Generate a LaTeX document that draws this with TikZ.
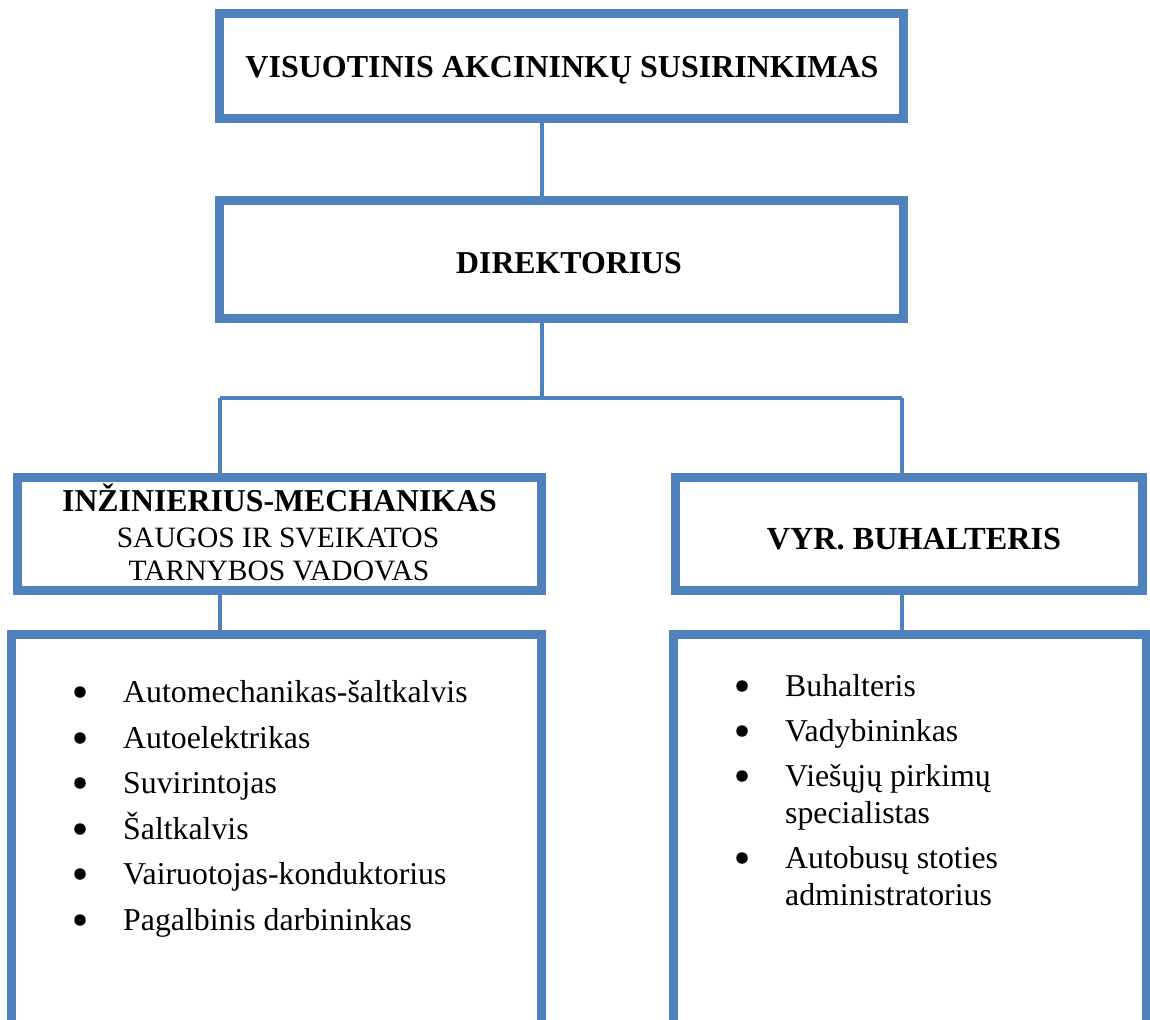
\documentclass[tikz,border=0pt]{standalone}
\usepackage{fontspec}
\setmainfont{Liberation Serif}
\definecolor{boxblue}{HTML}{4F81BD}
\tikzset{
  orgbox/.style={draw=boxblue, line width=9pt, fill=white, inner sep=0pt, outer sep=0pt, rectangle},
  link/.style={draw=boxblue, line width=4pt},
  hdr/.style={font=\fontsize{32}{36}\selectfont\bfseries, inner sep=0pt, anchor=base},
  sub/.style={font=\fontsize{29.5}{34}\selectfont, inner sep=0pt, anchor=base},
  item/.style={font=\fontsize{31.8}{37}\selectfont, inner sep=0pt, anchor=base west},
  dot/.style={circle, fill=black, inner sep=0pt, minimum size=11.5pt}
}
\begin{document}
\begin{tikzpicture}[x=1pt,y=-1pt]
\useasboundingbox (0,0) rectangle (1150,1019);
\clip (0,0) rectangle (1150,1019);

% connectors (drawn first, boxes on top)
\coordinate (split) at (542,398);
\coordinate (lsplit) at (220,398);
\coordinate (rsplit) at (902,398);
\draw[link] (542,118) -- (542,201);
\draw[link] (542,318) -- (split);
\draw[link] (lsplit) -- (rsplit);
\draw[link] (lsplit) -- (220,478);
\draw[link] (rsplit) -- (902,478);
\draw[link] (220,590) -- (220,635);
\draw[link] (902,590) -- (902,635);

% boxes
\node[orgbox, minimum width=684pt, minimum height=104.5pt] (vas) at (561.5,66) {};
\node[orgbox, minimum width=684pt, minimum height=118pt] (dir) at (561.5,259.5) {};
\node[orgbox, minimum width=524pt, minimum height=113pt] (inz) at (279.5,534) {};
\node[orgbox, minimum width=467pt, minimum height=113pt] (vyr) at (909,534) {};
\draw[draw=boxblue, line width=9pt] (11.5,1100) -- (11.5,634.5) -- (541.5,634.5) -- (541.5,1100);
\draw[draw=boxblue, line width=9pt] (673.5,1100) -- (673.5,634.5) -- (1146.5,634.5) -- (1146.5,1100);

% texts
\node[hdr] (t1) at (562,78) {VISUOTINIS AKCININKŲ SUSIRINKIMAS};
\node[hdr, font=\fontsize{31.8}{34}\selectfont\bfseries] (t2) at (569,273) {DIREKTORIUS};
\node[hdr, font=\fontsize{31.8}{34}\selectfont\bfseries] (t3) at (279.5,511) {INŽINIERIUS-MECHANIKAS};
\node[sub] (t4) at (278,547) {SAUGOS IR SVEIKATOS};
\node[sub] (t5) at (279,580) {TARNYBOS VADOVAS};
\node[hdr, font=\fontsize{32.2}{36}\selectfont\bfseries] (t6) at (914,549) {VYR. BUHALTERIS};

% left list
\foreach \i/\y/\t in {1/702/Automechanikas-šaltkalvis, 2/748/Autoelektrikas, 3/793/Suvirintojas, 4/839/Šaltkalvis, 5/884/Vairuotojas-konduktorius, 6/930/Pagalbinis darbininkas}{
  \node[item] (l\i) at (123,\y) {\t};
  \node[dot] (ld\i) at (80,\y-10) {};
}
% right list
\node[item] (r1) at (785,696) {Buhalteris};
\node[item] (r2) at (785,741) {Vadybininkas};
\node[item] (r3) at (785,786) {Viešųjų pirkimų};
\node[item] (r3b) at (785,823) {specialistas};
\node[item] (r4) at (785,868) {Autobusų stoties};
\node[item] (r4b) at (785,905) {administratorius};
\node[dot] (rd1) at (742,686) {};
\node[dot] (rd2) at (742,731) {};
\node[dot] (rd3) at (742,776) {};
\node[dot] (rd4) at (742,858) {};
\end{tikzpicture}
\end{document}
